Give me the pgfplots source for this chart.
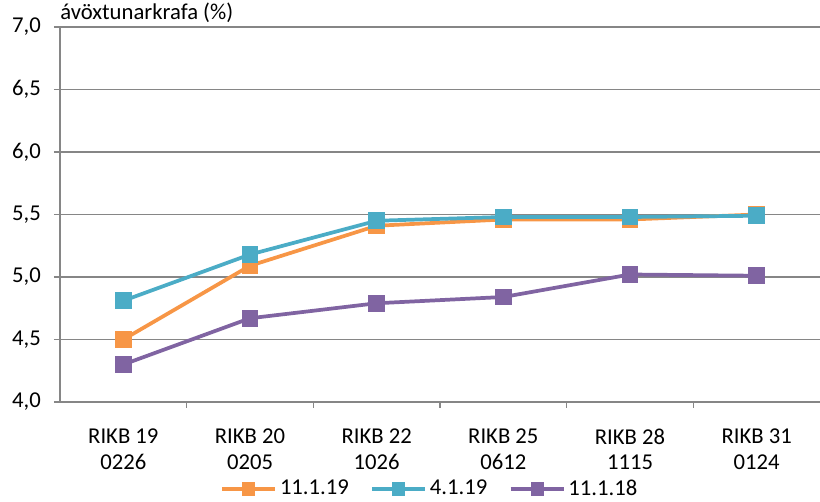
\documentclass[border=0pt]{standalone}
\usepackage{pgfplots}
\pgfplotsset{compat=1.18}
\usepackage{fontspec}
\setmainfont{Carlito}
\definecolor{sOrange}{HTML}{F79646}
\definecolor{sTeal}{HTML}{4BACC6}
\definecolor{sPurple}{HTML}{8064A2}
\definecolor{gridgray}{HTML}{868686}

\begin{document}
\fontsize{17}{19}\selectfont
\begin{tikzpicture}
\begin{axis}[
  at={(0,0)}, anchor=south west,
  scale only axis,
  width=570pt, height=281.25pt,
  xmin=-0.5, xmax=5.5,
  ymin=4, ymax=7,
  ytick={4,4.5,...,7},
  xtick={0,...,5},
  xticklabels={{RIKB 19\\0226},{RIKB 20\\0205},{RIKB 22\\1026},{RIKB 25\\0612},{RIKB 28\\1115},{RIKB 31\\0124}},
  xticklabel style={align=center, text depth=0pt, yshift=-10pt},
  minor xtick={0.5,1.5,...,4.5},
  major x tick style={draw=none},
  minor tick length=4.5pt,
  major tick length=4.5pt,
  tick align=outside,
  tick style={gridgray, line width=0.9pt},
  axis x line*=bottom,
  axis y line*=left,
  axis line style={gridgray, line width=1pt, -},
  ymajorgrids,
  grid style={gridgray, line width=1pt},
  yticklabel style={xshift=-4pt},
  /pgf/number format/.cd, use comma, fixed, fixed zerofill, precision=1, assume math mode=true,
  /pgfplots/.cd,
  legend columns=3,
  legend style={draw=none, at={(0.487,-0.232)}, anchor=center,
    /tikz/every even column/.append style={column sep=14pt}},
  legend image code/.code={
    \draw[mark repeat=2, mark phase=2, mark size=3.5pt]
      plot coordinates {(0pt,0pt) (20pt,0pt) (40pt,0pt)};
  },
  every axis plot/.append style={line width=2.8pt, mark=square*, mark size=4.8pt},
  clip=false,
]
\addplot[sOrange] coordinates {(0,4.50) (1,5.09) (2,5.41) (3,5.46) (4,5.46) (5,5.50)};
\addlegendentry{11.1.19}
\addplot[sTeal] coordinates {(0,4.81) (1,5.18) (2,5.45) (3,5.48) (4,5.48) (5,5.49)};
\addlegendentry{4.1.19}
\addplot[sPurple] coordinates {(0,4.30) (1,4.67) (2,4.79) (3,4.84) (4,5.02) (5,5.01)};
\addlegendentry{11.1.18}
\node[anchor=south west, inner sep=0pt] at (rel axis cs:0,1) [yshift=3pt] {ávöxtunarkrafa (\%)};
\end{axis}
\pgfresetboundingbox
\path (-45pt,-75pt) rectangle (570pt,301.5pt);
\end{tikzpicture}
\end{document}
